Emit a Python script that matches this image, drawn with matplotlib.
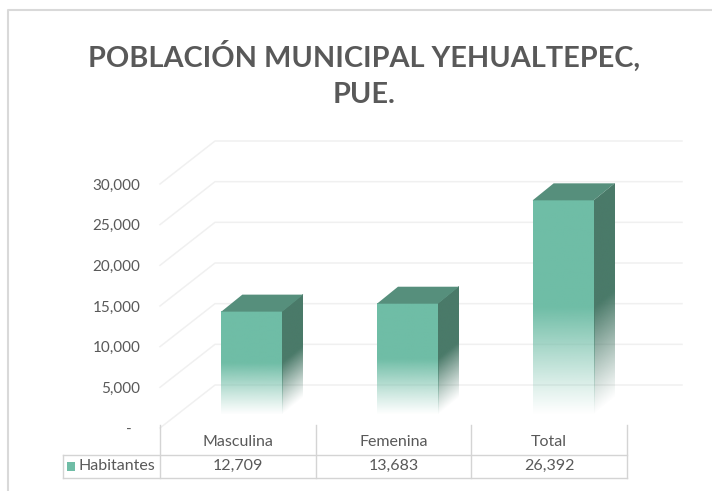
import numpy as np
import matplotlib.pyplot as plt
from matplotlib.transforms import Affine2D, IdentityTransform
from matplotlib.patches import Polygon, Rectangle
from matplotlib.lines import Line2D

categories = ["Masculina", "Femenina", "Total"]
habitantes = [12709, 13683, 26392]
series_name = "Habitantes"
y_ticks = [0, 5000, 10000, 15000, 20000, 25000, 30000]
y_tick_labels = ["-", "5,000", "10,000", "15,000", "20,000", "25,000", "30,000"]
title = "POBLACIÓN MUNICIPAL YEHUALTEPEC,\nPUE."

W, H = 712, 491
front_col = np.array([111, 189, 166]) / 255
top_col = "#568f7c"
side_col = np.array([74, 122, 105]) / 255
grid_col = "#f0f0f0"
text_col = "#595959"
line_col = "#d4d4d4"

plt.rcParams['font.family'] = ['Lato', 'DejaVu Sans']

fig = plt.figure(figsize=(W / 100, H / 100), dpi=100)
# axes = front plane of the 3d floor, x spans the table columns
ax = fig.add_axes([160 / W, (H - 428) / H, 467 / W, 244 / H])
ax.set_xlim(-0.5, 2.5)
ax.set_ylim(0, 30000)
ax.set_autoscale_on(False)
for s in ax.spines.values():
    s.set_visible(False)
ax.set_xticks([])
ax.set_yticks(y_ticks, y_tick_labels)
ax.tick_params(axis="y", length=0, pad=14, labelsize=11, labelcolor=text_col)
ax.yaxis.get_major_ticks()[0].set_pad(20)

disp = IdentityTransform()


def px(x, v):
    return ax.transData.transform((x, v))


# depth offsets in pixels
bar_front = np.array([14, 13])
bar_depth = np.array([21, 17])
wall = np.array([55, 43])

# walls: side diagonals + back gridlines
for v in y_ticks:
    p0 = px(-0.5, v)
    p1 = p0 + wall
    p2 = px(2.5, v) + wall
    ax.add_line(Line2D([p0[0], p1[0], p2[0]], [p0[1], p1[1], p2[1]],
                       transform=disp, color=grid_col, lw=1.1, clip_on=False, zorder=1))


def gradient(rgb, n=200):
    t = np.linspace(0, 1, n)
    a = np.clip(t / 0.5, 0, 1) ** 1.1
    img = np.zeros((n, 1, 4))
    img[:, 0, :3] = rgb
    img[:, 0, 3] = a
    return img


bw = 0.392
for i, v in enumerate(habitantes):
    bl = px(i - bw / 2, 0) + bar_front
    br = px(i + bw / 2, 0) + bar_front
    tl = px(i - bw / 2, v) + bar_front
    tr = px(i + bw / 2, v) + bar_front
    # front face
    ax.imshow(gradient(front_col), extent=(bl[0], br[0], bl[1], tl[1]), origin="lower",
              aspect="auto", interpolation="bilinear", transform=disp, clip_on=False, zorder=3)
    # side face (sheared)
    k = bar_depth[1] / bar_depth[0]
    shear = Affine2D().translate(-br[0], -br[1]).skew(0, np.arctan(k)).translate(br[0], br[1])
    ax.imshow(gradient(side_col), extent=(br[0], br[0] + bar_depth[0], br[1], tr[1]), origin="lower",
              aspect="auto", interpolation="bilinear", transform=shear, clip_on=False, zorder=3)
    # top face
    ax.add_patch(Polygon([tl, tr, tr + bar_depth, tl + bar_depth], closed=True, transform=disp,
                         facecolor=top_col, edgecolor="none", clip_on=False, zorder=4))

ax.set_xlim(-0.5, 2.5)
ax.set_ylim(0, 30000)

# data table under the chart
def fy(y):
    return H - y

edges = [-0.5, 0.5, 1.5, 2.5]
for e in edges:
    x = px(e, 0)[0]
    fig.add_artist(Line2D([x, x], [fy(425), fy(478)], transform=disp, color=line_col, lw=1))
x_left = 63
x_right = px(2.5, 0)[0]
for y in (455, 478):
    fig.add_artist(Line2D([x_left, x_right], [fy(y), fy(y)], transform=disp, color=line_col, lw=1))
fig.add_artist(Line2D([x_left, x_left], [fy(455), fy(478)], transform=disp, color=line_col, lw=1))

for i, (c, v) in enumerate(zip(categories, habitantes)):
    x = px(i, 0)[0]
    fig.text(x, fy(442), c, transform=disp, ha="center", va="center", fontsize=11.5, color=text_col)
    fig.text(x, fy(466), f"{v:,}", transform=disp, ha="center", va="center", fontsize=11.5, color=text_col)

fig.add_artist(Rectangle((67, fy(471)), 8, 9, transform=disp, facecolor=front_col, edgecolor="none"))
fig.text(79, fy(466), series_name, transform=disp, ha="left", va="center", fontsize=11.5, color=text_col)

# title
fig.text(364, fy(74), title, transform=disp, ha="center", va="center", fontsize=20.8,
         fontweight="bold", color=text_col, linespacing=1.48)

# chart frame (cut at right/bottom)
fig.add_artist(Line2D([8, 8, W], [0, fy(10), fy(10)], transform=disp, color="#d9d9d9", lw=1.5))

fig.savefig("out.png", dpi=100)
